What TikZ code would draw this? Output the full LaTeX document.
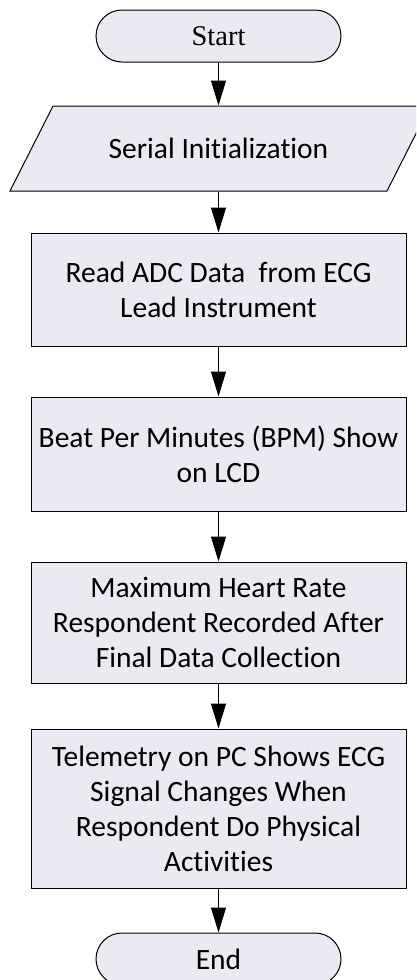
\documentclass[tikz,border=0pt]{standalone}
\usepackage{fontspec}
\setmainfont{Carlito}[Ligatures={NoCommon}]
\newfontfamily\timesfont{Liberation Serif}
\usetikzlibrary{arrows.meta}
\definecolor{boxfill}{RGB}{235,233,241}
\begin{document}
\begin{tikzpicture}[x=1pt,y=-1pt,
  base/.style={line width=1pt, inner sep=0pt, align=center, font=\fontsize{29.5}{35}\selectfont},
  proc/.style={base, draw=black, fill=boxfill, minimum width=375pt},
  term/.style={base, draw=black, fill=boxfill, rounded corners=26pt, minimum width=245pt, minimum height=52pt},
  arr/.style={-{Triangle[length=25pt,width=15pt]}, line width=1pt}]
\useasboundingbox (0,0) rectangle (416,980);
\clip (0,0) rectangle (416,980);
\node[term, font=\timesfont\fontsize{28.5}{35}\selectfont] (start) at (218.5,36) {Start};
\filldraw[fill=boxfill, draw=black, line width=1pt] (53,106) -- (430,106) -- (387,191) -- (10,191) -- cycle;
\node[base, minimum width=300pt, minimum height=85pt] (serial) at (218.5,148.5) {Serial Initialization};
\node[proc, minimum height=113pt] (read) at (218.5,289.5) {Read ADC Data \ from ECG\\Lead Instrument};
\node[proc, minimum height=114pt] (bpm) at (218.5,454) {Beat Per Minutes (BPM) Show\\on LCD};
\node[proc, minimum height=121pt] (max) at (218.5,622.5) {Maximum Heart Rate\\Respondent Recorded After\\Final Data Collection};
\node[proc, minimum height=159pt] (tel) at (218.5,808.5) {Telemetry on PC Shows ECG\\Signal Changes When\\Respondent Do Physical\\Activities};
\node[term] (end) at (218.5,959) {End};
\draw[arr] (start) -- (serial);
\draw[arr] (serial) -- (read);
\draw[arr] (read) -- (bpm);
\draw[arr] (bpm) -- (max);
\draw[arr] (max) -- (tel);
\draw[arr] (tel) -- (end);
\end{tikzpicture}
\end{document}
